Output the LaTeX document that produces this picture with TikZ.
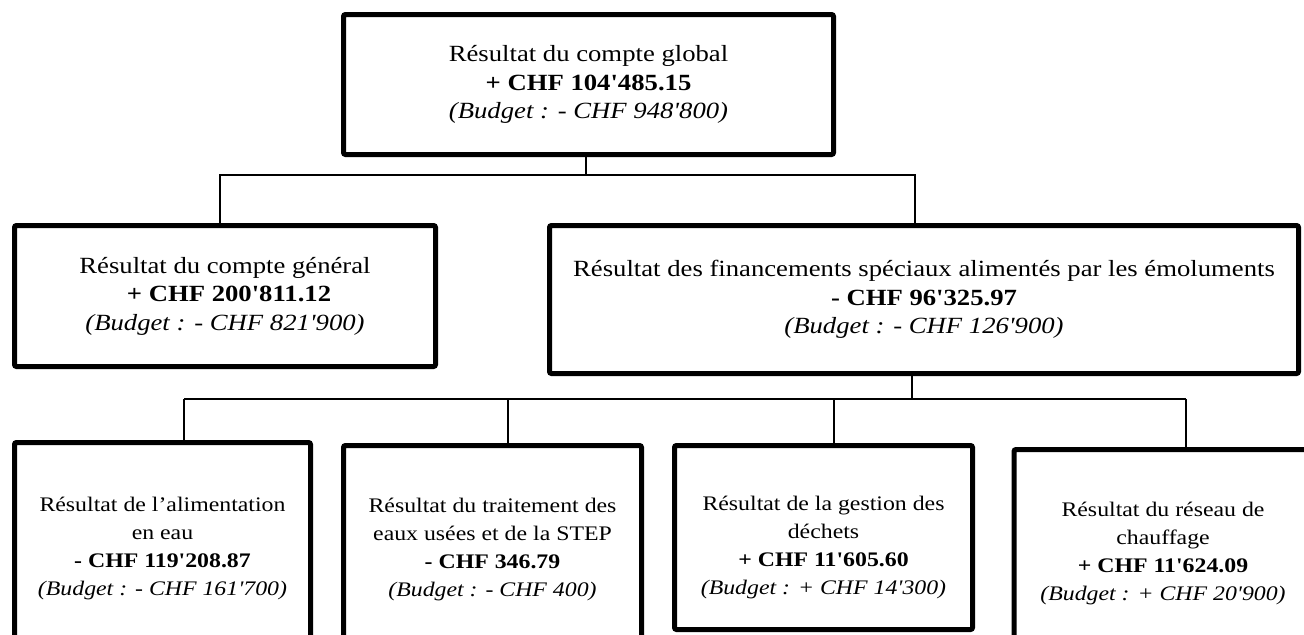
\documentclass[tikz,border=0pt]{standalone}
\usepackage{fontspec}
\setmainfont{Liberation Serif}[Ligatures=TeXOff,FakeStretch=1.15]
\usepackage{tikz}

\begin{document}
\begin{tikzpicture}[x=0.5pt,y=-0.5pt,
  box/.style={draw,line width=2.5pt,rounded corners=1pt,align=center,inner sep=2pt},
  upper/.style={box,font=\fontsize{11.6}{14.3}\selectfont},
  lower/.style={box,minimum width=149pt,font=\fontsize{10.35}{14}\selectfont},
  link/.style={line width=1.1pt}]
  \useasboundingbox (0,0) rectangle (1304,634);

  % comptes
  \node[upper,minimum width=245pt,minimum height=70pt] (glob) at (588.5,84.5)
    {Résultat du compte global\\ \textbf{+ CHF 104'485.15}\\ \textit{(Budget : - CHF 948'800)}};
  \node[upper,minimum width=210.5pt,minimum height=70.5pt] (gen) at (225,296)
    {Résultat du compte général\\ \hspace*{4pt}\textbf{+ CHF 200'811.12}\\ \textit{(Budget : - CHF 821'900)}};
  \node[upper,minimum width=374.5pt,minimum height=74pt] (spec) at (924,299.5)
    {Résultat des financements spéciaux alimentés par les émoluments\\ \textbf{- CHF 96'325.97}\\ \textit{(Budget : - CHF 126'900)}};

  % financements speciaux
  \node[lower,minimum width=148pt,minimum height=105.5pt] (eau) at (162.5,548)
    {Résultat de l’alimentation\\ en eau\\ \textbf{- CHF 119'208.87}\\ \textit{(Budget : - CHF 161'700)}};
  \node[lower,minimum height=104pt] (step) at (492.5,549.5)
    {Résultat du traitement des\\ eaux usées et de la STEP\\ \textbf{- CHF 346.79}\\ \textit{(Budget : - CHF 400)}};
  \node[lower,minimum height=92pt] (dech) at (823.5,537.5)
    {\rule{0pt}{17.6pt}Résultat de la gestion des\\ déchets\\ \textbf{+ CHF 11'605.60}\\ \textit{(Budget : + CHF 14'300)}};
  \node[lower,minimum height=103.5pt] (chauf) at (1163,553)
    {Résultat du réseau de\\ chauffage\\ \textbf{+ CHF 11'624.09}\\ \textit{(Budget : + CHF 20'900)}};

  % liaisons
  \coordinate (busL) at (220,175);
  \coordinate (busR) at (915,175);
  \draw[link] ([xshift=-1.25pt]glob.south) |- (busL) -- (busL |- gen.north);
  \draw[link] ([xshift=-1.25pt]glob.south) |- (busR) -- (busR |- spec.north);

  \coordinate (tapE) at (184,399);
  \coordinate (tapS) at (508,399);
  \coordinate (tapD) at (834,399);
  \coordinate (tapC) at (1186,399);
  \draw[link] (tapE) -- (tapC);
  \draw[link] ([xshift=-6pt]spec.south) -- ([xshift=-6pt]spec.south |- tapE);
  \foreach \tap/\bx in {tapE/eau,tapS/step,tapD/dech,tapC/chauf}
    \draw[link] (\tap) -- (\tap |- \bx.north);
\end{tikzpicture}
\end{document}
